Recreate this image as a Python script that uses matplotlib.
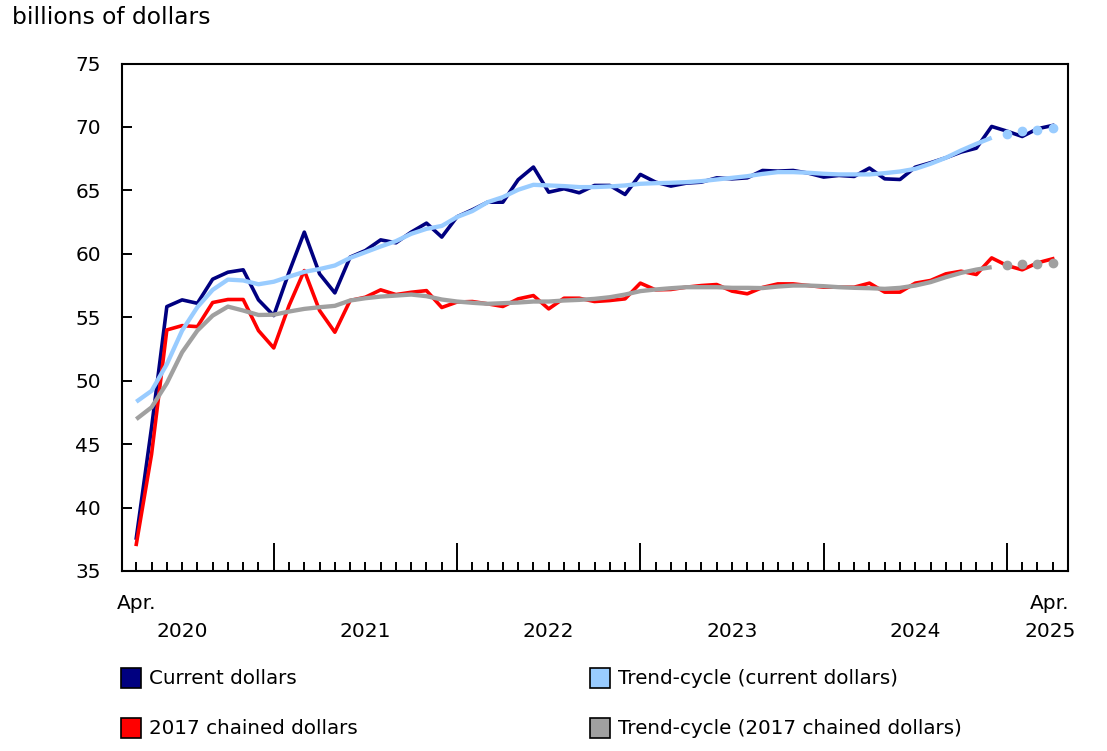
import matplotlib
matplotlib.use("Agg")
import matplotlib.pyplot as plt
import matplotlib.transforms as mtransforms
from matplotlib.patches import Rectangle
import pandas as pd

# monthly, April 2020 to April 2025
months = pd.date_range("2020-04-01", "2025-04-01", freq="MS")

current = [37.6, 46.3, 55.84, 56.37, 56.1, 58.0, 58.55, 58.74, 56.37, 55.13,
           58.55, 61.71, 58.42, 56.92, 59.74, 60.26, 61.1, 60.87, 61.71, 62.42,
           61.32, 62.92, 63.47, 64.07, 64.07, 65.84, 66.84, 64.86, 65.13, 64.81,
           65.39, 65.39, 64.68, 66.26, 65.65, 65.34, 65.57, 65.65, 65.99, 65.91,
           65.99, 66.57, 66.52, 66.57, 66.36, 66.05, 66.18, 66.1, 66.76, 65.91,
           65.86, 66.83, 67.18, 67.57, 68.02, 68.33, 70.04, 69.67, 69.25, 69.86, 70.12]

chained = [37.1, 44.2, 54.0, 54.34, 54.26, 56.16, 56.4, 56.4, 53.95, 52.58,
           55.92, 58.68, 55.53, 53.82, 56.32, 56.58, 57.16, 56.79, 56.97, 57.1,
           55.77, 56.2, 56.24, 56.06, 55.85, 56.45, 56.71, 55.66, 56.5, 56.5,
           56.24, 56.32, 56.45, 57.69, 57.16, 57.19, 57.37, 57.5, 57.58, 57.06,
           56.85, 57.35, 57.63, 57.63, 57.5, 57.37, 57.37, 57.37, 57.69, 56.98,
           56.98, 57.69, 57.9, 58.42, 58.63, 58.37, 59.68, 59.08, 58.74, 59.29, 59.61]

trend_current = [48.34, 49.2, 51.3, 53.95, 55.8, 57.16, 57.97, 57.9, 57.6, 57.8,
                 58.2, 58.58, 58.8, 59.08, 59.68, 60.13, 60.58, 61.0, 61.58, 61.97,
                 62.2, 62.9, 63.37, 64.07, 64.47, 65.05, 65.44, 65.39, 65.34, 65.26,
                 65.26, 65.31, 65.39, 65.52, 65.57, 65.6, 65.65, 65.73, 65.86, 65.99,
                 66.12, 66.3, 66.44, 66.44, 66.39, 66.31, 66.26, 66.26, 66.26, 66.36,
                 66.49, 66.7, 67.1, 67.57, 68.15, 68.67, 69.15, 69.46, 69.67, 69.78, 69.91]

trend_chained = [46.97, 47.9, 49.8, 52.24, 53.95, 55.13, 55.84, 55.53, 55.18, 55.2,
                 55.45, 55.66, 55.79, 55.9, 56.32, 56.5, 56.63, 56.71, 56.79, 56.66,
                 56.4, 56.24, 56.14, 56.06, 56.11, 56.16, 56.24, 56.24, 56.32, 56.37,
                 56.45, 56.58, 56.79, 57.06, 57.19, 57.29, 57.37, 57.37, 57.37, 57.32,
                 57.32, 57.3, 57.42, 57.5, 57.5, 57.45, 57.37, 57.32, 57.29, 57.24,
                 57.32, 57.5, 57.77, 58.16, 58.5, 58.76, 58.95, 59.08, 59.16, 59.21, 59.29]

# trend-cycle shown as dots for the last four months
n_dots = 4

NAVY = "#000080"
LBLUE = "#99CCFF"
RED = "#FF0000"
GREY = "#A0A0A0"

x = list(range(len(months)))
cut = len(months) - n_dots

fig = plt.figure(figsize=(11.07, 7.51), dpi=100)
ax = fig.add_axes([0.110, 0.2397, 0.8548, 0.6757])

ax.plot(x, current, color=NAVY, lw=2.6, zorder=2)
ax.plot(x, chained, color=RED, lw=2.6, zorder=2)
ax.plot(x[:cut], trend_current[:cut], color=LBLUE, lw=3.1, zorder=3, solid_capstyle="butt")
ax.plot(x[:cut], trend_chained[:cut], color=GREY, lw=3.1, zorder=3, solid_capstyle="butt")
ax.plot(x[cut:], trend_current[cut:], "o", color=LBLUE, ms=6, zorder=4)
ax.plot(x[cut:], trend_chained[cut:], "o", color=GREY, ms=6, zorder=4)

ax.set_xlim(-0.95, len(months))
ax.set_ylim(35, 75)
ax.set_yticks(range(35, 80, 5))
for s in ax.spines.values():
    s.set_linewidth(1.5)
ax.tick_params(axis="y", direction="in", length=7, width=1.4, pad=15, labelsize=14.5)

jan = [i for i, m in enumerate(months) if m.month == 1]
other = [i for i, m in enumerate(months) if m.month != 1]
ax.set_xticks(jan)
ax.set_xticks(other, minor=True)
ax.tick_params(axis="x", which="major", direction="in", length=20, width=1.4, labelbottom=False)
ax.tick_params(axis="x", which="minor", direction="in", length=6.5, width=1.4)

# year labels under July, Apr. at the ends
trans = mtransforms.blended_transform_factory(ax.transData, ax.transAxes)
for i, m in enumerate(months):
    if m.month == 7:
        ax.text(i, -0.12, str(m.year), transform=trans, ha="center", va="center", fontsize=14.5)
ax.text(0, -0.065, "Apr.", transform=trans, ha="center", va="center", fontsize=14.5)
ax.text(x[-1] - 0.2, -0.065, "Apr.", transform=trans, ha="center", va="center", fontsize=14.5)
ax.text(x[-1] - 0.2, -0.12, str(months[-1].year), transform=trans, ha="center", va="center", fontsize=14.5)

fig.text(12 / 1107, 1 - 17 / 751, "billions of dollars", ha="left", va="center", fontsize=16.8)

# legend
items = [("Current dollars", NAVY, 121, 678),
         ("2017 chained dollars", RED, 121, 728),
         ("Trend-cycle (current dollars)", LBLUE, 589.5, 678),
         ("Trend-cycle (2017 chained dollars)", GREY, 589.5, 728)]
W, H = 1107.0, 751.0
for label, col, px, py in items:
    fig.patches.append(Rectangle((px / W, 1 - (py + 10) / H), 20 / W, 20 / H,
                                 transform=fig.transFigure, facecolor=col,
                                 edgecolor="black", lw=1.2))
    fig.text((px + 28) / W, 1 - py / H, label, ha="left", va="center", fontsize=14.3)

fig.savefig("out.png", dpi=100)
